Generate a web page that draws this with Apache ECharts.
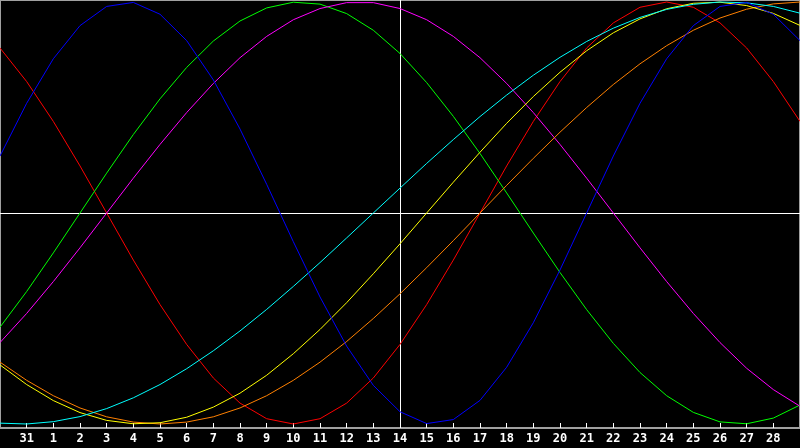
<!DOCTYPE html>
<html>
<head>
<meta charset="utf-8">
<style>
  html, body { margin: 0; padding: 0; background: #000; }
  #main { width: 800px; height: 448px; }
</style>
<script src="https://cdn.jsdelivr.net/npm/echarts/dist/echarts.min.js"></script>
</head>
<body>
<div id="main"></div>
<script>
// days shown on the axis (first and last are off the edge)
var days = ['30', '31', '1', '2', '3', '4', '5', '6', '7', '8', '9', '10', '11', '12', '13', '14',
  '15', '16', '17', '18', '19', '20', '21', '22', '23', '24', '25', '26', '27', '28', '29'];
var today = '14';

// values, -1 .. 1
var blue = [0.270, 0.520, 0.731, 0.888, 0.979, 0.998, 0.942, 0.817, 0.631, 0.398, 0.136, -0.136, -0.398, -0.631, -0.817, -0.942,
  -0.998, -0.979, -0.888, -0.731, -0.520, -0.270, 0, 0.270, 0.520, 0.731, 0.888, 0.979, 0.998, 0.942, 0.817];
var red = [0.782, 0.623, 0.434, 0.223, 0, -0.223, -0.434, -0.623, -0.782, -0.901, -0.975, -1, -0.975, -0.901, -0.782, -0.623,
  -0.434, -0.223, 0, 0.223, 0.434, 0.623, 0.782, 0.901, 0.975, 1, 0.975, 0.901, 0.782, 0.623, 0.434];
var green = [-0.541, -0.372, -0.189, 0, 0.189, 0.372, 0.541, 0.690, 0.815, 0.910, 0.972, 0.999, 0.990, 0.945, 0.866, 0.756,
  0.618, 0.458, 0.282, 0.095, -0.095, -0.282, -0.458, -0.618, -0.756, -0.866, -0.945, -0.990, -0.999, -0.972, -0.910];
var magenta = [-0.614, -0.476, -0.325, -0.165, 0, 0.165, 0.325, 0.476, 0.614, 0.736, 0.837, 0.916, 0.969, 0.997, 0.997, 0.969,
  0.916, 0.837, 0.736, 0.614, 0.476, 0.325, 0.165, 0, -0.165, -0.325, -0.476, -0.614, -0.736, -0.837, -0.916];
var yellow = [-0.720, -0.813, -0.889, -0.946, -0.983, -0.999, -0.994, -0.968, -0.920, -0.854, -0.769, -0.667, -0.552, -0.425, -0.288, -0.146,
  0, 0.146, 0.288, 0.425, 0.552, 0.667, 0.769, 0.854, 0.920, 0.968, 0.994, 0.999, 0.983, 0.946, 0.889];
var orange = [-0.707, -0.793, -0.866, -0.924, -0.966, -0.991, -1, -0.991, -0.966, -0.924, -0.866, -0.793, -0.707, -0.609, -0.5, -0.383,
  -0.259, -0.131, 0, 0.131, 0.259, 0.383, 0.5, 0.609, 0.707, 0.793, 0.866, 0.924, 0.966, 0.991, 1];
var cyan = [-0.996, -1, -0.989, -0.965, -0.927, -0.876, -0.813, -0.738, -0.653, -0.559, -0.457, -0.348, -0.235, -0.118, 0, 0.118,
  0.235, 0.348, 0.457, 0.559, 0.653, 0.738, 0.813, 0.876, 0.927, 0.965, 0.989, 1, 0.996, 0.979, 0.947];

function line(name, color, data) {
  return {
    name: name,
    type: 'line',
    data: data,
    symbol: 'none',
    lineStyle: { color: color, width: 1 },
    z: 3
  };
}

var myChart = echarts.init(document.getElementById('main'));

var series = [
  line('red', '#ff0000', red),
  line('green', '#00ff00', green),
  line('magenta', '#ff00ff', magenta),
  line('orange', '#ff8000', orange),
  line('yellow', '#ffff00', yellow),
  line('cyan', '#00ffff', cyan),
  line('blue', '#0000ff', blue)
];

// white cross: today and the zero line
series[0].markLine = {
  silent: true,
  symbol: 'none',
  label: { show: false },
  lineStyle: { color: '#ffffff', width: 1, type: 'solid' },
  data: [{ xAxis: today }, { yAxis: 0 }],
  z: 2
};

var option = {
  backgroundColor: '#000000',
  animation: false,
  grid: {
    left: 0, right: 0, top: 0, bottom: 20,
    show: true,
    borderColor: '#a0a0a0',
    borderWidth: 2,
    backgroundColor: '#000000'
  },
  xAxis: {
    type: 'category',
    data: days,
    boundaryGap: false,
    axisLine: { onZero: false, lineStyle: { color: '#a0a0a0', width: 1 } },
    axisTick: {
      inside: true,
      length: 5,
      lineStyle: { color: '#ffffff' },
      interval: function (i) { return i > 0 && i < days.length - 1; }
    },
    axisLabel: {
      color: '#ffffff',
      fontFamily: 'DejaVu Sans Mono',
      fontWeight: 'bold',
      fontSize: 12,
      margin: 5,
      interval: function (i) { return i > 0 && i < days.length - 1; }
    },
    splitLine: { show: false }
  },
  yAxis: {
    type: 'value',
    min: -1.019,
    max: 1.0095,
    show: false,
    splitLine: { show: false }
  },
  series: series
};

myChart.setOption(option);
</script>
</body>
</html>
